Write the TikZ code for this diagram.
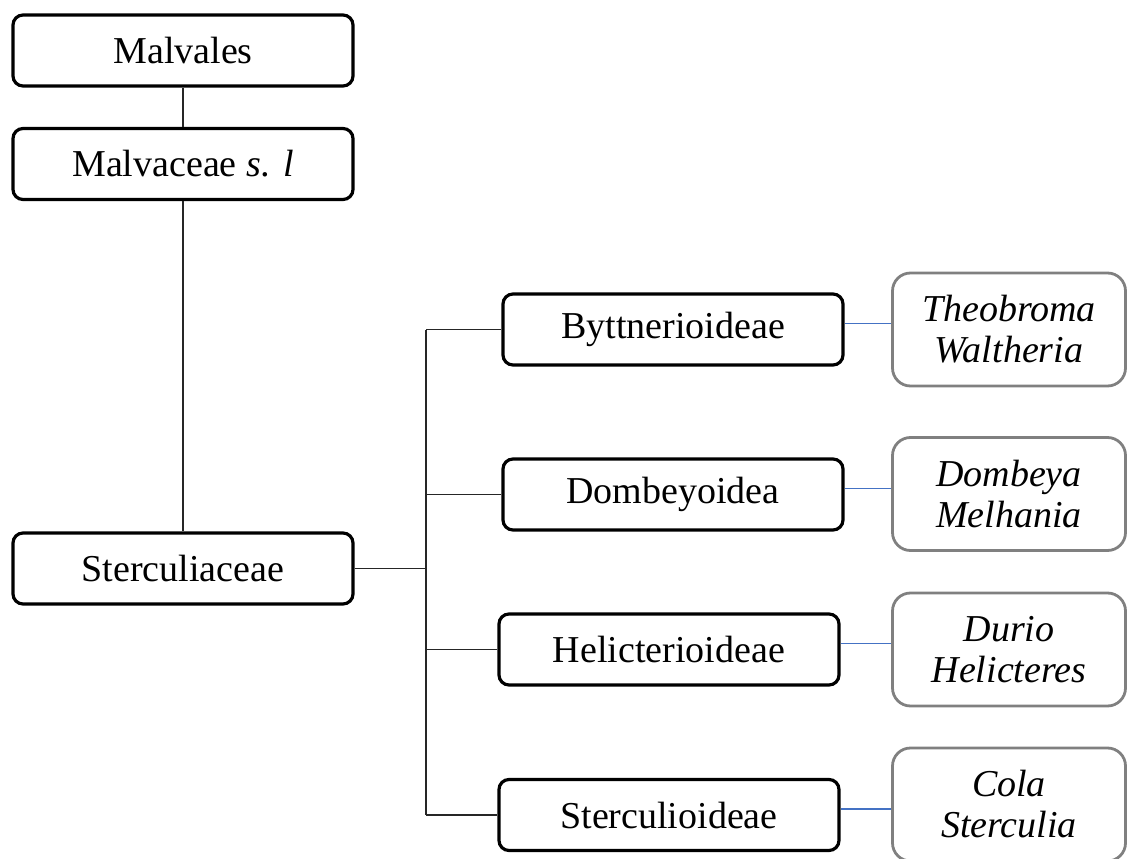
\documentclass[tikz,border=0pt]{standalone}
\usepackage{fontspec}
\setmainfont{Liberation Serif}
\usepackage{tikz}
\definecolor{linkblue}{RGB}{68,114,196}
\definecolor{genusgray}{RGB}{128,128,128}

\begin{document}
\begin{tikzpicture}[x=1pt, y=-1pt,
        box/.style={draw, line width=3.2pt, rectangle, rounded corners=10pt, align=center, minimum width=340pt, minimum height=71pt, inner sep=0pt, font=\fontsize{38}{42}\selectfont},
        genus/.style={draw=genusgray, line width=2.8pt, rectangle, rounded corners=18pt, align=center, minimum width=233pt, minimum height=113pt, inner sep=0pt, font=\fontsize{38}{41}\selectfont\itshape},
        line/.style={draw=black!85, line width=1.1pt},
        link/.style={draw=linkblue, line width=1.4pt}
    ]
        \useasboundingbox (0,0) rectangle (1128,859);
        % Nodes
        \node[box] (malvales) at (183, 50.5) {Malvales};
        \node[box] (malvaceae) at (183, 164) {Malvaceae \textit{s. l}};
        \node[box] (sterc) at (183, 568.5) {Sterculiaceae};
        \node[box] (bytt) at (673, 329.5) {Byttnerioideae};
        \node[box] (domb) at (673, 494.5) {Dombeyoidea};
        \node[box] (helic) at (669, 649.5) {Helicterioideae};
        \node[box] (sterculi) at (669, 815) {Sterculioideae};
        \node[genus] (theob) at (1009, 329.5) {Theobroma\\Waltheria};
        \node[genus] (dombeya) at (1009, 494) {Dombeya\\Melhania};
        \node[genus] (durio) at (1009, 649.5) {Durio\\Helicteres};
        \node[genus] (cola) at (1009, 804.5) {Cola\\Sterculia};
        \coordinate (fork) at (426, 568.5);

        % Lines
        \draw[line] (malvales.south) -- (malvaceae.north);
        \draw[line] (malvaceae.south) -- (sterc.north);
        \draw[line] (sterc.east) -- (fork);
        \draw[line] (fork |- bytt.west) -- (fork |- sterculi.west);
        \draw[line] (fork |- bytt.west) -- (bytt.west);
        \draw[line] (fork |- domb.west) -- (domb.west);
        \draw[line] (fork |- helic.west) -- (helic.west);
        \draw[line] (fork |- sterculi.west) -- (sterculi.west);

        \draw[link] ([yshift=6pt]bytt.east) -- ([yshift=6pt]bytt.east -| theob.west);
        \draw[link] ([yshift=6pt]domb.east) -- ([yshift=6pt]domb.east -| dombeya.west);
        \draw[link] ([yshift=6pt]helic.east) -- ([yshift=6pt]helic.east -| durio.west);
        \draw[link] ([yshift=6pt]sterculi.east) -- ([yshift=6pt]sterculi.east -| cola.west);
    \end{tikzpicture}
\end{document}
